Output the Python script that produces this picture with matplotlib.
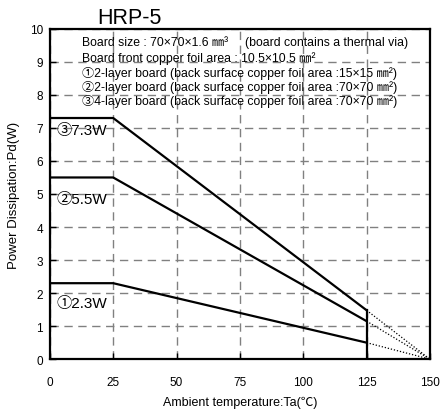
import matplotlib
matplotlib.use('Agg')
import matplotlib.pyplot as plt

plt.rcParams['font.family'] = ['Liberation Sans', 'Noto Sans CJK JP', 'DejaVu Sans']

# derating curves (Ta in degC, Pd in W)
ta_solid = [0, 25, 125]
pd_1 = [2.3, 2.3, 0.5]
pd_2 = [5.5, 5.5, 1.15]
pd_3 = [7.3, 7.3, 1.48]
ta_dot = [125, 150]
curve_labels = ['①2.3W', '②5.5W', '③7.3W']
label_y = [1.7, 4.85, 6.95]

notes = [
    'Board size : 70×70×1.6 ㎜³     (board contains a thermal via)',
    'Board front copper foil area : 10.5×10.5 ㎜²',
    '①2-layer board (back surface copper foil area :15×15 ㎜²)',
    '②2-layer board (back surface copper foil area :70×70 ㎜²)',
    '③4-layer board (back surface copper foil area :70×70 ㎜²)',
]
note_y = [9.6, 9.13, 8.68, 8.25, 7.82]

fig = plt.figure(figsize=(4.41, 4.14), dpi=100)
ax = fig.add_axes([0.113, 0.130, 0.862, 0.798])

for pd in (pd_1, pd_2, pd_3):
    ax.plot(ta_solid, pd, color='black', lw=1.6, solid_capstyle='butt')
    ax.plot(ta_dot, [pd[-1], 0], color='black', lw=0.9, ls=(0, (1, 1.5)))

# limit line at 125 degC
ax.plot([125, 125], [0, max(pd_1[-1], pd_2[-1], pd_3[-1])], color='black', lw=1.6)

for lab, y in zip(curve_labels, label_y):
    ax.text(2.5, y, lab, fontsize=11, va='center', ha='left')

for txt, y in zip(notes, note_y):
    ax.text(12.5, y, txt, fontsize=8.8, va='center', ha='left')

ax.set_xlim(0, 150)
ax.set_ylim(0, 10)
ax.set_xticks(range(0, 151, 25))
ax.set_yticks(range(0, 11))
ax.grid(True, color='#808080', ls=(0, (6, 4)), lw=1.0)
ax.tick_params(direction='in', length=4, width=1, labelsize=8.5, pad=5)
ax.tick_params(axis='x', pad=12)
for s in ax.spines.values():
    s.set_linewidth(1.6)

ax.set_xlabel('Ambient temperature:Ta(℃)', fontsize=9, labelpad=6)
ax.set_ylabel('Power Dissipation:Pd(W)', fontsize=9.5, labelpad=7)
fig.text(0.22, 0.955, 'HRP-5', fontsize=15.5, va='center', ha='left')

fig.savefig('out.png', dpi=100)
